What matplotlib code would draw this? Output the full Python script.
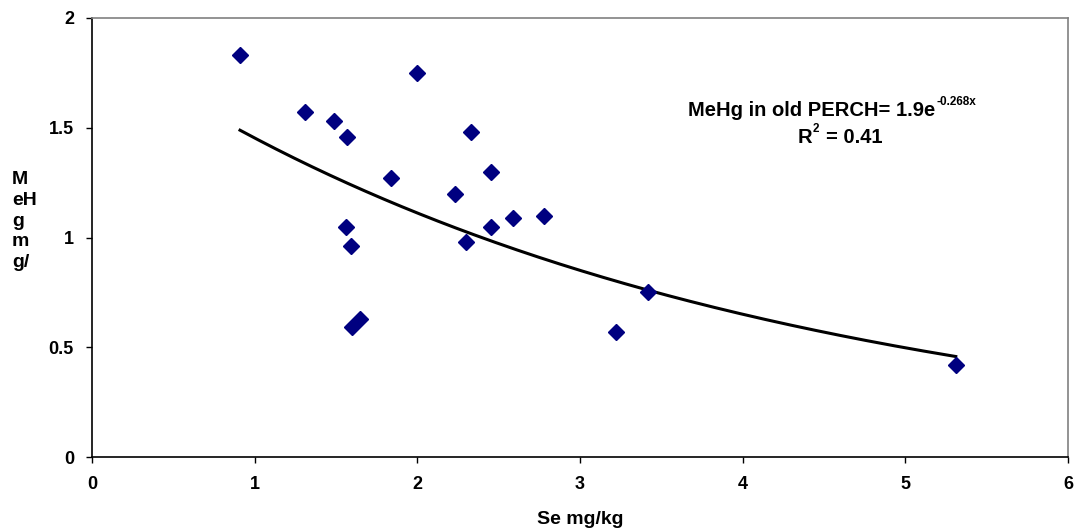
import numpy as np
import matplotlib
matplotlib.use("Agg")
import matplotlib.pyplot as plt

plt.rcParams['font.family'] = ['Liberation Sans', 'DejaVu Sans']
plt.rcParams['font.weight'] = 'bold'

se = [0.91, 1.31, 1.49, 1.57, 1.56, 1.59, 1.60, 1.65, 1.84, 2.00, 2.23, 2.30, 2.33,
      2.45, 2.45, 2.59, 2.78, 3.22, 3.42, 5.31]
mehg = [1.83, 1.57, 1.53, 1.46, 1.05, 0.96, 0.59, 0.63, 1.27, 1.75, 1.20, 0.98, 1.48,
        1.30, 1.05, 1.09, 1.10, 0.57, 0.75, 0.42]
fit_a = 1.9
fit_b = -0.268
r2 = 0.41
xticks = [0, 1, 2, 3, 4, 5, 6]
yticks = [0, 0.5, 1, 1.5, 2]
ytick_labels = ['0', '0.5', '1', '1.5', '2']

fig = plt.figure(figsize=(10.74, 5.30), dpi=100)
ax = fig.add_axes([92/1074, 1-457/530, (1068-92)/1074, (457-18)/530])

xf = np.linspace(min(se), max(se), 200)
ax.plot(xf, fit_a*np.exp(fit_b*xf), color='black', lw=2.2, zorder=2)
ax.plot(se, mehg, linestyle='none', marker='D', ms=8.5, color='#000080',
        markeredgecolor='#000080', zorder=3)

ax.set_xlim(0, 6)
ax.set_ylim(0, 2)
ax.set_xticks(xticks)
ax.set_yticks(yticks)
ax.set_xticklabels([str(t) for t in xticks])
ax.set_yticklabels(ytick_labels)
ax.tick_params(direction='out', length=4, width=1, labelsize=13)
ax.tick_params(axis='y', pad=9)
ax.tick_params(axis='x', pad=10)
for lab in ax.get_xticklabels() + ax.get_yticklabels():
    lab.set_fontweight('bold')
ax.spines['left'].set_color('black')
ax.spines['bottom'].set_color('black')
ax.spines['top'].set_color('#808080')
ax.spines['right'].set_color('#808080')
for s in ax.spines.values():
    s.set_linewidth(1.2)

ax.set_xlabel('Se mg/kg', fontsize=14, fontweight='bold', labelpad=13)
fig.text(12/1074, 1-221/530, 'M\neH\ng\nm\ng/', fontsize=14, fontweight='bold',
         ha='left', va='center', linespacing=1.3)

t1 = ax.text(0.611, 0.7775, 'MeHg in old PERCH= 1.9e', transform=ax.transAxes,
             fontsize=14.5, fontweight='bold', ha='left', va='baseline')
ax.annotate('-0.268x', xy=(1, 0), xycoords=t1, xytext=(0.5, 10.8), textcoords='offset points',
            fontsize=8.5, fontweight='bold', ha='left', va='baseline')
t2 = ax.text(0.723, 0.715, 'R', transform=ax.transAxes,
             fontsize=14.5, fontweight='bold', ha='left', va='baseline')
ax.annotate('2', xy=(1, 0), xycoords=t2, xytext=(0.5, 10.8), textcoords='offset points',
            fontsize=8.5, fontweight='bold', ha='left', va='baseline')
ax.annotate('= %.2f' % r2, xy=(1, 0), xycoords=t2, xytext=(10, 3.1), textcoords='offset points',
            fontsize=14.5, fontweight='bold', ha='left', va='baseline')

fig.savefig('out.png', dpi=100)
